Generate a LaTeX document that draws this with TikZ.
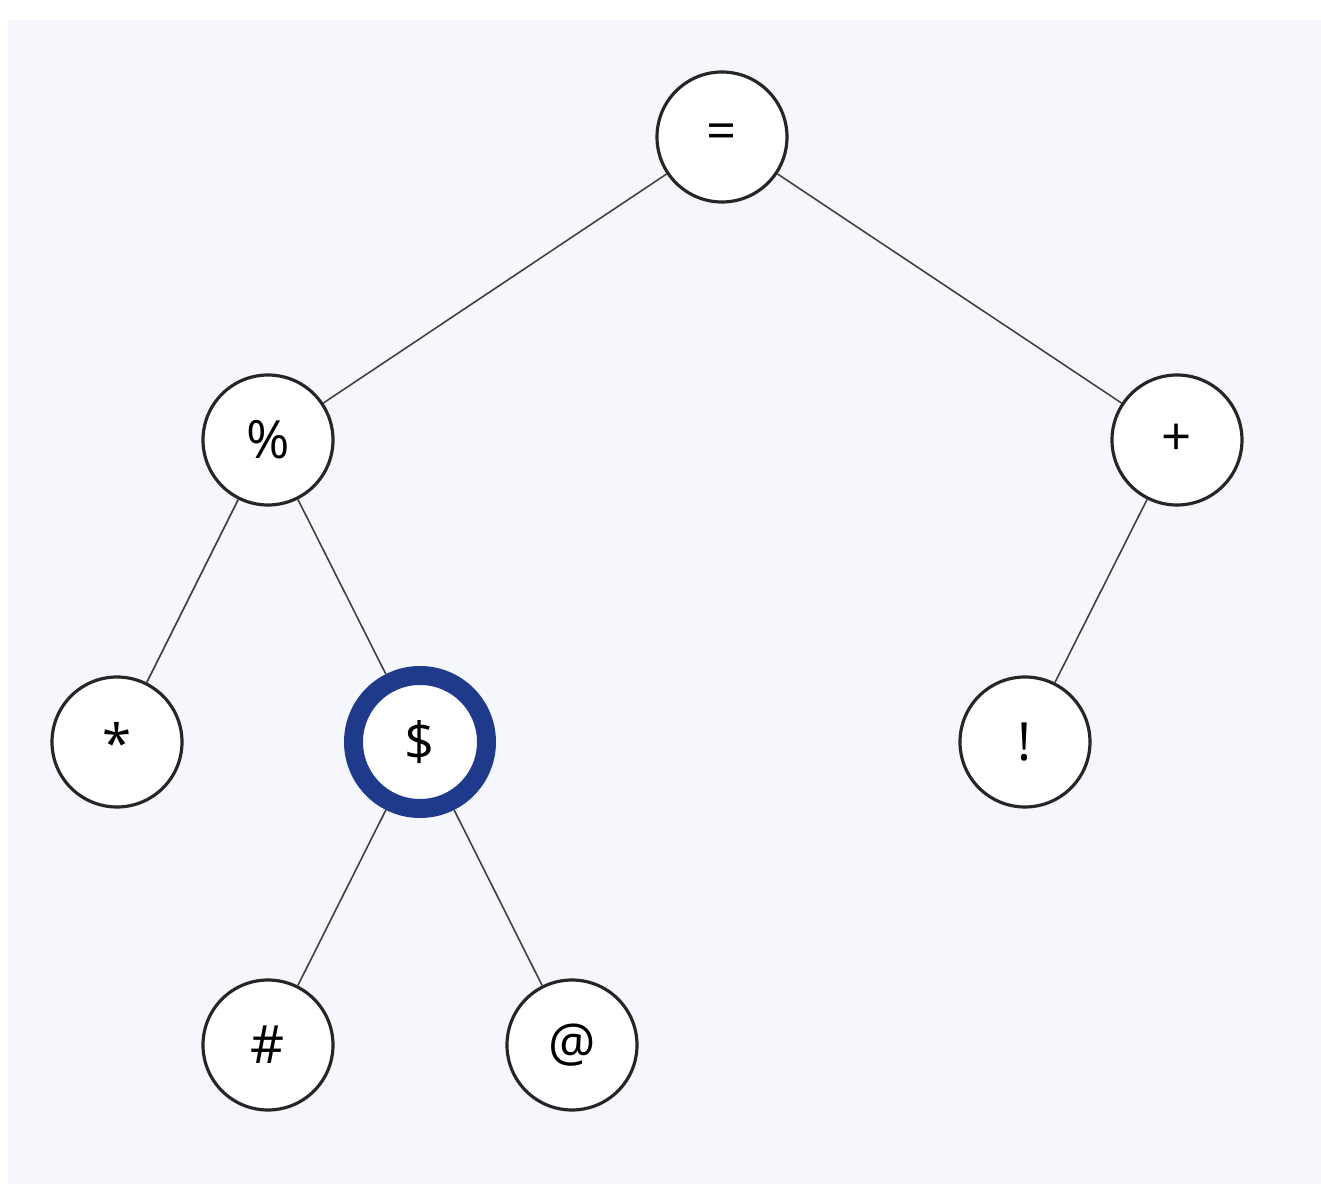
\documentclass[tikz,border=0pt]{standalone}
\usepackage{fontspec}
\setmainfont{Open Sans}
\definecolor{panel}{HTML}{F5F7FC}
\definecolor{ringblue}{HTML}{1F3A8A}
\begin{document}
\begin{tikzpicture}[
	treenode/.style={circle,draw=black!85,line width=0.9pt,fill=white,minimum size=1.3cm,inner sep=0pt,font=\fontsize{15}{17}\selectfont},
	current/.style={draw=ringblue,line width=5.4pt,minimum size=1.33cm},
	branch/.style={draw=black!75,line width=0.45pt}]
	% Background panel
	\useasboundingbox (0,0) rectangle (13.21,12);
	\fill[panel] (0.08,0.16) rectangle (13.21,11.8);

	% Nodes
	\node[treenode] (eq) at (7.22,10.63) {=};
	\node[treenode] (pct) at (2.68,7.6) {\%};
	\node[treenode] (plus) at (11.77,7.6) {+};
	\node[treenode] (ast) at (1.17,4.58) {*};
	\node[treenode,current] (dol) at (4.2,4.58) {\$};
	\node[treenode] (bang) at (10.25,4.58) {!};
	\node[treenode] (hash) at (2.68,1.55) {\#};
	\node[treenode] (at) at (5.72,1.55) {@};

	% Edges
	\draw[branch] (eq) -- (pct);
	\draw[branch] (eq) -- (plus);
	\draw[branch] (pct) -- (ast);
	\draw[branch] (pct) -- (dol);
	\draw[branch] (plus) -- (bang);
	\draw[branch] (dol) -- (hash);
	\draw[branch] (dol) -- (at);

\end{tikzpicture}
\end{document}
